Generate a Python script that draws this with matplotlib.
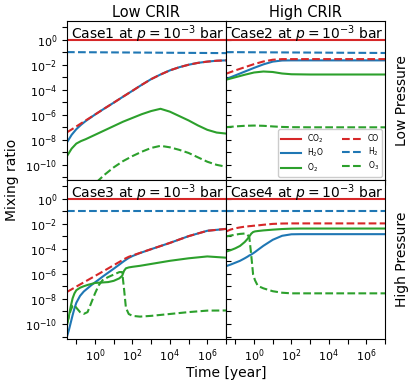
import numpy as np
import matplotlib.pyplot as plt
from matplotlib.ticker import NullLocator

# log10 of time [year] and log10 of mixing ratio
t_flat = [-1.5, 7]
co2_flat = [-0.02, -0.02]
h2_case1 = [-0.99, -1.07]
h2_case2 = [-0.99, -1.06]
h2_case34 = [-0.99, -0.99]

# Case1: low CRIR, low pressure
t1 = [-1.5, -1.25, -1.0, -0.75, -0.5, 0, 0.5, 1, 1.5, 2, 2.5, 3, 3.5, 4, 4.5, 5, 5.5, 6, 6.5, 7]
co_1 = [-7.4, -7.17, -6.93, -6.69, -6.45, -5.98, -5.5, -5.03, -4.55, -4.08, -3.6, -3.15, -2.78,
        -2.45, -2.2, -2.0, -1.85, -1.75, -1.68, -1.65]
h2o_1 = [-8.2, -7.6, -7.15, -6.8, -6.5, -5.98, -5.5, -5.03, -4.55, -4.08, -3.6, -3.15, -2.78,
         -2.45, -2.2, -2.0, -1.85, -1.75, -1.68, -1.65]
o2_1 = [-9.3, -8.7, -8.3, -8.1, -7.95, -7.6, -7.25, -6.9, -6.55, -6.25, -5.95, -5.7, -5.52,
        -5.75, -6.1, -6.45, -6.85, -7.2, -7.42, -7.5]
o3_1 = [-14.0, -13.5, -13.0, -12.6, -12.2, -11.5, -10.8, -10.2, -9.7, -9.3, -8.95, -8.65, -8.48,
        -8.6, -8.8, -9.05, -9.4, -9.75, -10.0, -10.15]

# Case2: high CRIR, low pressure
t2 = [-1.5, -1, -0.5, 0, 0.5, 1, 1.5, 2, 3, 5, 7]
co_2 = [-2.72, -2.45, -2.2, -1.95, -1.74, -1.6, -1.55, -1.55, -1.55, -1.55, -1.55]
h2o_2 = [-3.15, -2.85, -2.55, -2.25, -1.97, -1.75, -1.66, -1.65, -1.65, -1.65, -1.65]
o2_2 = [-3.2, -3.0, -2.8, -2.62, -2.54, -2.58, -2.7, -2.76, -2.78, -2.78, -2.78]
o3_2 = [-6.99, -6.93, -6.88, -6.86, -6.88, -6.93, -6.97, -6.99, -7.0, -7.0, -7.0]

# Case3: low CRIR, high pressure
t3 = [-1.5, -1.4, -1.3, -1.2, -1.1, -1.0, -0.8, -0.6, -0.4, -0.2, 0, 0.2, 0.4, 0.7, 1.0, 1.3,
      1.45, 1.55, 1.65, 1.8, 2.0, 2.4, 3, 4, 5, 6, 7]
co_3 = [-7.44, -7.35, -7.27, -7.18, -7.1, -7.01, -6.84, -6.67, -6.5, -6.33, -6.16, -5.99, -5.82,
        -5.56, -5.3, -5.04, -4.91, -4.82, -4.74, -4.63, -4.52, -4.32, -4.02, -3.52, -2.98, -2.55, -2.4]
h2o_3 = [-11.0, -10.5, -9.9, -9.3, -8.75, -8.3, -7.75, -7.4, -7.15, -6.9, -6.67, -6.45, -6.22,
         -5.9, -5.58, -5.25, -5.08, -4.97, -4.87, -4.72, -4.57, -4.33, -4.02, -3.52, -2.98, -2.55, -2.4]
o2_3 = [-10.1, -9.4, -8.6, -7.95, -7.55, -7.3, -7.1, -6.98, -6.88, -6.8, -6.72, -6.7, -6.68,
        -6.65, -6.55, -6.35, -6.15, -5.75, -5.55, -5.48, -5.43, -5.35, -5.2, -4.95, -4.75, -4.6, -4.7]
o3_3 = [-9.95, -9.4, -8.9, -8.55, -8.5, -8.7, -9.05, -9.19, -9.05, -8.3, -7.55, -6.9, -6.5,
        -6.25, -6.05, -5.85, -5.85, -7.2, -8.7, -9.2, -9.35, -9.41, -9.35, -9.2, -9.05, -8.93, -8.92]

# Case4: high CRIR, high pressure
t4 = [-1.5, -1.25, -1.0, -0.75, -0.5, -0.35, -0.25, -0.15, -0.05, 0.05, 0.2, 0.5, 1.0, 1.5,
      2.0, 2.5, 3, 5, 7]
co_4 = [-2.61, -2.45, -2.35, -2.28, -2.22, -2.2, -2.18, -2.17, -2.15, -2.14, -2.12, -2.07, -2.0,
        -1.97, -1.96, -1.96, -1.96, -1.96, -1.96]
h2o_4 = [-5.38, -5.25, -5.1, -4.95, -4.75, -4.62, -4.52, -4.45, -4.35, -4.25, -4.08, -3.75, -3.27,
         -2.95, -2.83, -2.82, -2.82, -2.82, -2.82]
o2_4 = [-4.22, -4.1, -3.95, -3.76, -3.45, -3.2, -3.0, -2.78, -2.65, -2.6, -2.57, -2.52, -2.46,
        -2.41, -2.38, -2.37, -2.37, -2.37, -2.37]
o3_4 = [-3.0, -2.93, -2.86, -2.8, -2.77, -2.85, -3.1, -4.5, -6.05, -6.5, -6.95, -7.15, -7.38,
        -7.5, -7.55, -7.55, -7.55, -7.55, -7.55]

cases = ['Case1', 'Case2', 'Case3', 'Case4']
col_titles = ['Low CRIR', 'High CRIR']
row_titles = ['Low Pressure', 'High Pressure']

panels = [
    (t1, co_1, h2o_1, o2_1, o3_1, h2_case1),
    (t2, co_2, h2o_2, o2_2, o3_2, h2_case2),
    (t3, co_3, h2o_3, o2_3, o3_3, h2_case34),
    (t4, co_4, h2o_4, o2_4, o3_4, h2_case34),
]

fig, axes = plt.subplots(2, 2, figsize=(4.15, 3.87), dpi=100, sharex=True, sharey=True)
fig.subplots_adjust(left=0.1614, right=0.9277, top=0.9465, bottom=0.124, hspace=0, wspace=0)

def p(v):
    return 10.0 ** np.array(v)

for i, ax in enumerate(axes.flat):
    t, co, h2o, o2, o3, h2 = panels[i]
    ax.plot(p(t_flat), p(co2_flat), color='tab:red', lw=1.5, label=r'$\mathrm{CO_2}$')
    ax.plot(p(t), p(h2o), color='tab:blue', lw=1.5, label=r'$\mathrm{H_2O}$')
    ax.plot(p(t), p(o2), color='tab:green', lw=1.5, label=r'$\mathrm{O_2}$')
    ax.plot(p(t), p(co), color='tab:red', lw=1.5, ls='--', label='CO')
    ax.plot(p(t_flat), p(h2), color='tab:blue', lw=1.5, ls='--', label=r'$\mathrm{H_2}$')
    ax.plot(p(t), p(o3), color='tab:green', lw=1.5, ls='--', label=r'$\mathrm{O_3}$')
    ax.set_xscale('log')
    ax.set_yscale('log')
    ax.text(0.025, 0.985, cases[i] + r' at $p = 10^{-3}$ bar', transform=ax.transAxes,
            ha='left', va='top', fontsize=10)

ax0 = axes[0, 0]
ax0.set_xlim(10 ** -1.5, 1e7)
ax0.set_ylim(10 ** -11.2, 10 ** 1.52)
xt = [10.0 ** k for k in range(-1, 8)]
yt = [10.0 ** k for k in range(-11, 2)]
for ax in axes.flat:
    ax.set_xticks(xt)
    ax.set_yticks(yt)
    ax.xaxis.set_minor_locator(NullLocator())
    ax.yaxis.set_minor_locator(NullLocator())
    ax.tick_params(labelsize=8)
for ax in axes[1, :]:
    ax.set_xticklabels([r'$10^{%d}$' % k if k % 2 == 0 else '' for k in range(-1, 8)])
    ax.tick_params(axis='x', pad=2.5)
for ax in axes[:, 0]:
    ax.set_yticklabels([r'$10^{%d}$' % k if k % 2 == 0 else '' for k in range(-11, 2)])
for ax in axes[:, 1]:
    ax.tick_params(axis='y', direction='in')

axes[0, 0].set_title(col_titles[0], fontsize=10.5, pad=3)
axes[0, 1].set_title(col_titles[1], fontsize=10.5, pad=3)
for r in range(2):
    axes[r, 1].text(1.11, 0.5, row_titles[r], transform=axes[r, 1].transAxes, rotation=90,
                    ha='center', va='center', fontsize=10)

fig.text(0.03, 0.535, 'Mixing ratio', rotation=90, ha='center', va='center', fontsize=10)
fig.text(0.545, 0.035, 'Time [year]', ha='center', va='center', fontsize=10)

axes[0, 1].legend(loc='lower right', ncol=2, fontsize=5.5, framealpha=1, labelspacing=0.25,
                  handlelength=2.6, columnspacing=2.3, borderaxespad=0.4)

fig.savefig('out.png', dpi=100)
